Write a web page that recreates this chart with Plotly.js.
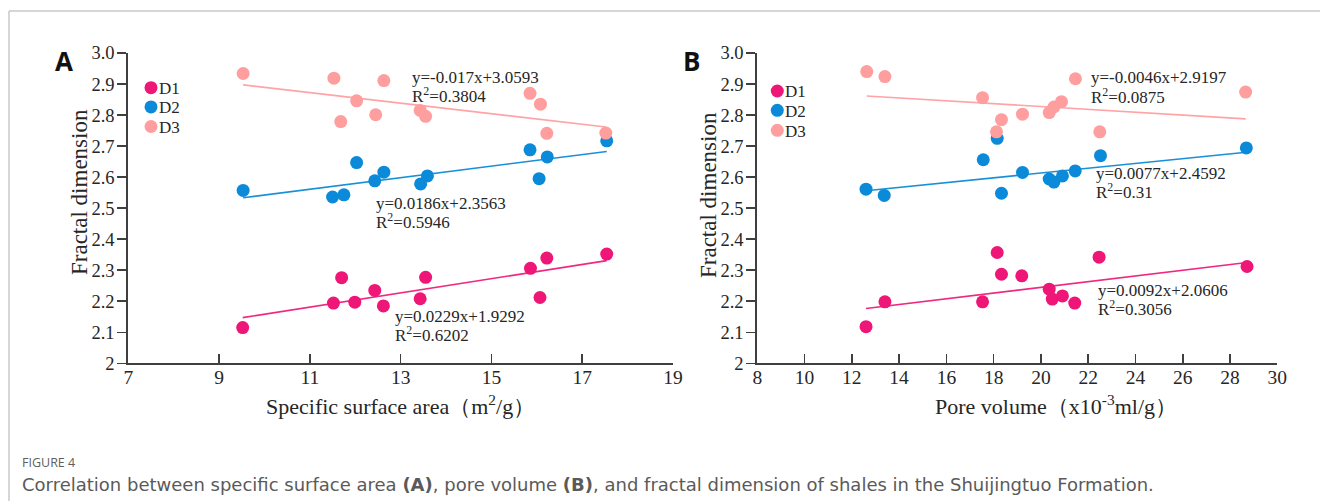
<!DOCTYPE html>
<html>
<head>
<meta charset="utf-8">
<script src="https://cdn.plot.ly/plotly-3.0.1.min.js"></script>
<style>
  html, body { margin: 0; padding: 0; background: #ffffff; }
  #chart { width: 1320px; height: 501px; }
</style>
</head>
<body>
<div id="chart"></div>
<script>
// ---------------- DATA ----------------
const seriesNames = ['D1', 'D2', 'D3'];

// Panel A: specific surface area (m2/g)
const aD1x = [9.52, 11.52, 11.70, 11.99, 12.43, 12.62, 13.43, 13.55, 15.86, 16.07, 16.22, 17.54];
const aD1y = [2.115, 2.194, 2.276, 2.197, 2.235, 2.185, 2.208, 2.277, 2.306, 2.212, 2.339, 2.352];
const aD2x = [9.53, 11.50, 11.75, 12.03, 12.43, 12.63, 13.44, 13.59, 15.85, 16.05, 16.23, 17.54];
const aD2y = [2.557, 2.536, 2.543, 2.647, 2.588, 2.616, 2.578, 2.604, 2.688, 2.595, 2.665, 2.717];
const aD3x = [9.53, 11.53, 11.68, 12.03, 12.45, 12.63, 13.43, 13.55, 15.85, 16.08, 16.22, 17.52];
const aD3y = [2.934, 2.919, 2.779, 2.846, 2.801, 2.911, 2.815, 2.796, 2.870, 2.835, 2.741, 2.742];

// Panel B: pore volume (x10^-3 ml/g)
const bD1x = [12.60, 13.40, 17.53, 18.15, 18.33, 19.19, 20.35, 20.48, 20.91, 21.43, 22.46, 28.72];
const bD1y = [2.118, 2.198, 2.198, 2.357, 2.287, 2.282, 2.239, 2.207, 2.217, 2.194, 2.342, 2.312];
const bD2x = [12.60, 13.37, 17.56, 18.15, 18.33, 19.22, 20.35, 20.55, 20.91, 21.45, 22.52, 28.69];
const bD2y = [2.561, 2.541, 2.656, 2.725, 2.548, 2.615, 2.594, 2.584, 2.604, 2.620, 2.669, 2.694];
const bD3x = [12.63, 13.40, 17.53, 18.12, 18.33, 19.22, 20.35, 20.55, 20.87, 21.46, 22.49, 28.66];
const bD3y = [2.940, 2.924, 2.856, 2.746, 2.785, 2.803, 2.808, 2.826, 2.843, 2.917, 2.746, 2.874];

// Linear fits shown on the chart (D1, D2, D3)
const aSlopes = [0.0229, 0.0186, -0.017];
const aIntercepts = [1.9292, 2.3563, 3.0593];
const aR2 = ['0.6202', '0.5946', '0.3804'];
const bSlopes = [0.0092, 0.0077, -0.0046];
const bIntercepts = [2.0606, 2.4592, 2.9197];
const bR2 = ['0.3056', '0.31', '0.0875'];

// Tick labels
const yTickVals = [2, 2.1, 2.2, 2.3, 2.4, 2.5, 2.6, 2.7, 2.8, 2.9, 3.0];
const yTickText = ['2', '2.1', '2.2', '2.3', '2.4', '2.5', '2.6', '2.7', '2.8', '2.9', '3.0'];
const aXTickVals = [7, 9, 11, 13, 15, 17, 19];
const bXTickVals = [8, 10, 12, 14, 16, 18, 20, 22, 24, 26, 28, 30];

// ---------------- STYLE ----------------
const colors = ['#EE1677', '#0A8AD9', '#FF9E9E'];
const lineColors = ['#F0287F', '#1890D8', '#FFA3A6'];
const W = 1320, H = 501;
const px = v => v / W;
const py = v => 1 - v / H;
const serif = 'Liberation Serif, Times New Roman, serif';
const sans = 'Open Sans, Noto Sans, sans-serif';
const axisColor = '#3f3f3f';
const textColor = '#262626';

const panels = [
  { xs: [aD1x, aD2x, aD3x], ys: [aD1y, aD2y, aD3y], slopes: aSlopes, ints: aIntercepts, r2: aR2, xa: 'x', ya: 'y' },
  { xs: [bD1x, bD2x, bD3x], ys: [bD1y, bD2y, bD3y], slopes: bSlopes, ints: bIntercepts, r2: bR2, xa: 'x2', ya: 'y2' }
];

const traces = [];
panels.forEach(p => {
  for (let i = 0; i < 3; i++) {
    const xmin = Math.min(...p.xs[i]);
    const xmax = Math.max(...p.xs[i]);
    traces.push({
      type: 'scatter', mode: 'lines', xaxis: p.xa, yaxis: p.ya,
      x: [xmin, xmax],
      y: [p.slopes[i] * xmin + p.ints[i], p.slopes[i] * xmax + p.ints[i]],
      line: { color: lineColors[i], width: 1.6 },
      showlegend: false, hoverinfo: 'skip'
    });
  }
  for (let i = 0; i < 3; i++) {
    traces.push({
      type: 'scatter', mode: 'markers', xaxis: p.xa, yaxis: p.ya,
      name: seriesNames[i],
      x: p.xs[i], y: p.ys[i],
      marker: { color: colors[i], size: 13, line: { width: 0 } },
      showlegend: false
    });
  }
});

function xAxis(domain, range, tickvals, anchor) {
  return {
    domain: domain, range: range, tickvals: tickvals, anchor: anchor,
    ticks: 'inside', ticklen: 9, tickwidth: 1.5, tickcolor: axisColor,
    ticklabelstandoff: -5,
    showline: true, linecolor: axisColor, linewidth: 2,
    showgrid: false, zeroline: false, mirror: false,
    tickfont: { family: serif, size: 19.5, color: textColor },
    fixedrange: true
  };
}
function yAxis(domain, anchor) {
  return {
    domain: domain, range: [2, 3.0], tickvals: yTickVals, ticktext: yTickText,
    anchor: anchor,
    ticks: 'outside', ticklen: 9, tickwidth: 1.5, tickcolor: axisColor,
    ticklabelstandoff: -1,
    showline: true, linecolor: axisColor, linewidth: 2,
    showgrid: false, zeroline: false,
    tickfont: { family: serif, size: 18.5, color: textColor },
    fixedrange: true
  };
}

const yDom = [py(363.3), py(53)];
const layout = {
  width: W, height: H,
  margin: { l: 0, r: 0, t: 0, b: 0, pad: 0 },
  paper_bgcolor: '#ffffff', plot_bgcolor: 'rgba(0,0,0,0)',
  showlegend: false,
  xaxis: xAxis([px(128.3), px(673)], [7, 19], aXTickVals, 'y'),
  yaxis: yAxis(yDom, 'x'),
  xaxis2: xAxis([px(757.3), px(1277.3)], [8, 30], bXTickVals, 'y2'),
  yaxis2: yAxis(yDom, 'x2'),
  shapes: [], annotations: []
};

// figure frame
layout.shapes.push({ type: 'line', xref: 'paper', yref: 'paper', x0: px(9), x1: 1, y0: py(11), y1: py(11), line: { color: '#c8c8c8', width: 1.5 } });
layout.shapes.push({ type: 'line', xref: 'paper', yref: 'paper', x0: px(9), x1: px(9), y0: py(11), y1: 0, line: { color: '#c8c8c8', width: 1.5 } });

// legends (drawn manually)
const legendPos = [{ cx: 151, cy: [87.7, 106.9, 126.5] }, { cx: 777.3, cy: [91, 110.3, 130.3] }];
legendPos.forEach(lp => {
  for (let i = 0; i < 3; i++) {
    const r = 6.5;
    layout.shapes.push({
      type: 'circle', xref: 'paper', yref: 'paper',
      x0: px(lp.cx - r), x1: px(lp.cx + r), y0: py(lp.cy[i] + r), y1: py(lp.cy[i] - r),
      fillcolor: colors[i], line: { width: 0 }
    });
    layout.annotations.push({
      xref: 'paper', yref: 'paper', x: px(lp.cx + 6), y: py(lp.cy[i] + 1),
      xanchor: 'left', yanchor: 'middle', showarrow: false,
      text: seriesNames[i], font: { family: serif, size: 17, color: textColor }
    });
  }
});

// fit equations (data coordinates: left x, line1 y, line2 y)
const eqPosA = [[12.84, 2.150, 2.094], [12.42, 2.516, 2.457], [13.20, 2.921, 2.865]];
const eqPosB = [[22.35, 2.236, 2.177], [22.25, 2.613, 2.554], [22.03, 2.921, 2.862]];
function eqText(s, b) {
  return 'y=' + String(s) + 'x+' + String(b);
}
[[panels[0], eqPosA], [panels[1], eqPosB]].forEach(([p, pos]) => {
  for (let i = 0; i < 3; i++) {
    layout.annotations.push({
      xref: p.xa, yref: p.ya, x: pos[i][0], y: pos[i][1], xanchor: 'left', yanchor: 'middle',
      showarrow: false, text: eqText(p.slopes[i], p.ints[i]),
      font: { family: serif, size: 17, color: textColor }
    });
    layout.annotations.push({
      xref: p.xa, yref: p.ya, x: pos[i][0], y: pos[i][2], xanchor: 'left', yanchor: 'middle',
      showarrow: false, text: 'R<sup>2</sup>=' + p.r2[i],
      font: { family: serif, size: 17, color: textColor }
    });
  }
});

// axis titles
layout.annotations.push({ xref: 'paper', yref: 'paper', x: px(79), y: py(192), xanchor: 'center', yanchor: 'middle', textangle: -90, showarrow: false, text: 'Fractal dimension', font: { family: serif, size: 23, color: textColor } });
layout.annotations.push({ xref: 'paper', yref: 'paper', x: px(708), y: py(195), xanchor: 'center', yanchor: 'middle', textangle: -90, showarrow: false, text: 'Fractal dimension', font: { family: serif, size: 23, color: textColor } });
layout.annotations.push({ xref: 'paper', yref: 'paper', x: px(400), y: py(405), xanchor: 'center', yanchor: 'middle', showarrow: false, text: 'Specific surface area（m<sup>2</sup>/g）', font: { family: serif, size: 22, color: textColor } });
layout.annotations.push({ xref: 'paper', yref: 'paper', x: px(1056), y: py(405), xanchor: 'center', yanchor: 'middle', showarrow: false, text: 'Pore volume（x10<sup>-3</sup>ml/g）', font: { family: serif, size: 22, color: textColor } });

// panel labels
layout.annotations.push({ xref: 'paper', yref: 'paper', x: px(64), y: py(61), xanchor: 'center', yanchor: 'middle', showarrow: false, text: '<b>A</b>', font: { family: sans, size: 26, color: '#111111' } });
layout.annotations.push({ xref: 'paper', yref: 'paper', x: px(691), y: py(61), xanchor: 'center', yanchor: 'middle', showarrow: false, text: '<b>B</b>', font: { family: sans, size: 26, color: '#111111' } });

// caption
layout.annotations.push({ xref: 'paper', yref: 'paper', x: px(20), y: py(462), xanchor: 'left', yanchor: 'middle', showarrow: false, text: 'FIGURE 4', font: { family: sans, size: 12.5, color: '#5f5f5f' } });
layout.annotations.push({ xref: 'paper', yref: 'paper', x: px(20), y: py(484), xanchor: 'left', yanchor: 'middle', showarrow: false, text: 'Correlation between specific surface area <b>(A)</b>, pore volume <b>(B)</b>, and fractal dimension of shales in the Shuijingtuo Formation.', font: { family: 'DejaVu Sans, sans-serif', size: 18, color: '#5a5a5a' } });

Plotly.newPlot('chart', traces, layout, { displayModeBar: false, staticPlot: true });
</script>
</body>
</html>
